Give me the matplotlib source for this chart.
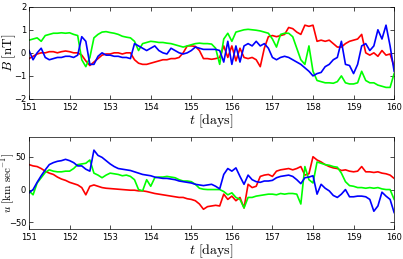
import numpy as np
import matplotlib
matplotlib.use("Agg")
from matplotlib import pyplot as plt

plt.rcParams['mathtext.fontset'] = 'cm'

# time axis, 0.1 day steps from day 151 to day 160
t = np.round(np.arange(151.0, 160.01, 0.1), 1)

# magnetic field components [nT]
B_red = [-0.25, -0.15, -0.05, 0.0, 0.0, 0.05, 0.05, 0.0, 0.05, 0.08,
         0.05, 0.0, 0.0, -0.1, -0.35, -0.55, -0.4, -0.25, -0.1, -0.05,
         -0.05, 0.0, 0.0, -0.05, 0.0, 0.0, -0.3, -0.45, -0.5, -0.5,
         -0.45, -0.4, -0.35, -0.3, -0.3, -0.25, -0.25, -0.2, 0.0, 0.3,
         0.3, 0.28, 0.1, -0.25, -0.25, -0.28, -0.25, -0.2, 0.3, -0.2,
         0.3, -0.35, 0.2, -0.2, -0.25, -0.2, -0.3, -0.6, 0.2, 0.7,
         0.75, 0.7, 0.75, 0.8, 1.1, 1.05, 0.9, 0.8, 1.2, 1.15,
         1.2, 0.5, 0.55, 0.5, 0.55, 0.4, 0.25, 0.25, 0.4, 0.5,
         0.55, 0.6, 0.8, 0.0, -0.1, 0.0, -0.15, 0.1, -0.1, -0.05,
         -0.6]
B_green = [0.55, 0.6, 0.65, 0.5, 0.75, 0.8, 0.85, 0.85, 0.87, 0.85,
           0.87, 0.8, 0.75, -0.3, -0.6, -0.2, 0.65, 0.8, 0.9, 0.92,
           0.88, 0.85, 0.8, 0.72, 0.68, 0.65, 0.5, 0.1, 0.4, 0.45,
           0.5, 0.48, 0.45, 0.45, 0.42, 0.4, 0.35, 0.3, 0.25, 0.3,
           0.35, 0.4, 0.42, 0.4, 0.4, 0.38, 0.2, -0.5, 0.6, 0.85,
           0.5, 0.9, 0.95, 1.0, 1.02, 1.0, 0.98, 0.95, 0.9, 0.85,
           0.6, 0.25, 0.8, 0.85, 0.85, 0.7, 0.2, -0.3, -0.5, 0.3,
           -0.8, -1.2, -1.25, -1.3, -1.3, -1.32, -1.25, -1.0, -1.3, -1.35,
           -1.35, -1.3, -0.8, -1.2, -1.3, -1.3, -1.4, -1.45, -1.5, -1.5,
           -0.9]
B_blue = [0.1, -0.3, 0.0, 0.2, -0.2, -0.3, -0.25, -0.2, -0.2, -0.15,
          -0.15, -0.2, -0.1, 0.7, 0.5, -0.5, -0.5, -0.15, 0.0, -0.1,
          -0.1, -0.15, -0.15, -0.2, -0.2, -0.25, 0.4, 0.3, 0.2, 0.1,
          0.2, 0.3, 0.1, 0.0, -0.05, 0.2, 0.1, 0.0, -0.05, 0.0,
          0.1, 0.25, 0.2, 0.15, 0.15, 0.15, 0.15, 0.1, -0.4, 0.5,
          -0.5, 0.3, -0.4, 0.3, 0.4, 0.3, 0.5, 0.3, 0.4, 0.2,
          -0.2, -0.3, -0.2, -0.15, -0.2, -0.3, -0.4, -0.5, -0.65, -0.8,
          -1.0, -0.9, -0.85, -0.6, -0.5, -0.3, -0.2, 0.5, -0.5, -0.55,
          -0.9, -0.5, 0.3, 0.4, 0.1, 0.3, 1.0, 0.6, 1.2, 0.3,
          -0.8]

# velocity components [km/s]
u_red = [38, 36, 35, 32, 28, 25, 23, 19, 16, 14,
         11, 9, 7, 3, -8, 5, 7, 5, 3, 2,
         1.5, 1, 0.5, 0, -0.5, -1, -1, -2, -2, -3,
         -4.5, -6, -7, -8, -9, -10, -11, -12, -12, -14,
         -15, -17, -22, -30, -26, -25, -24, -25, -7, -15,
         -10, -17, -12, -28, 8, 3, 5, 20, 22, 23,
         20, 28, 30, 31, 32, 30, 32, 35, 22, 24,
         50, 45, 42, 38, 35, 33, 32, 29, 30, 28,
         27, 28, 35, 27, 27, 26, 27, 25, 24, 22,
         17]
u_green = [-2, -8, 10, 18, 26, 30, 28, 27, 27, 28,
           28, 32, 38, 39, 40, 45, 25, 22, 18, 22,
           25, 24, 23, 21, 22, 20, 15, 0, -2, 15,
           5, 18, 19, 19, 20, 19, 18, 15, 13, 13,
           12, 8, 2, 0.5, 0, 0, 0, 0, -3, -8,
           -5, -12, -15, -28, -12, -12, -10, -9, -8, -7,
           -7, -8, -6, -7, -6, -6, -7, -22, 35, 15,
           10, 42, 40, 38, 37, 35, 34, 25, 12, 6,
           5, 3, 3, 2, 3, 2, 3, 1, 0, 0,
           -15]
u_blue = [-5, 0, 11, 21, 30, 38, 41, 43, 44, 46,
          44, 41, 36, 36, 31, 28, 60, 52, 49, 44,
          39, 35, 32, 31, 30, 29, 27, 25, 23, 22,
          21, 19, 18, 17, 17, 16, 15, 13, 12, 11,
          10, 8, 7, 6, 7, 8, 5, 1, 23, 32,
          28, 33, 20, 8, 22, 15, 12, 11, 13, 13,
          14, 18, 20, 21, 22, 20, 15, 9, 18, 19,
          21, -7, 8, 2, -2, -9, -12, -7, 0, -11,
          -11, -10, -10, -11, -15, -33, -25, -4, -10, -15,
          -35]

fig = plt.figure(figsize=(4.03, 2.59), dpi=100)
ax1 = fig.add_axes([0.072, 0.618, 0.906, 0.356])
ax2 = fig.add_axes([0.072, 0.116, 0.906, 0.355])

lw = 1.2
ax1.plot(t, B_red, color=(1, 0, 0), lw=lw)
ax1.plot(t, B_green, color=(0, 1, 0), lw=lw)
ax1.plot(t, B_blue, color=(0, 0, 1), lw=lw)
ax1.set_ylim(-2, 2)
ax1.set_yticks([-2, -1, 0, 1, 2])
ax1.set_ylabel(r'$B\ [\mathrm{nT}]$', fontsize=9.5)
ax1.yaxis.set_label_coords(-0.031, 0.5)

ax2.plot(t, u_red, color=(1, 0, 0), lw=lw)
ax2.plot(t, u_green, color=(0, 1, 0), lw=lw)
ax2.plot(t, u_blue, color=(0, 0, 1), lw=lw)
ax2.set_ylim(-60, 80)
ax2.set_yticks([-50, 0, 50])
ax2.set_ylabel(r'$u\ [\mathrm{km\ sec}^{-1}]$', fontsize=8)
ax2.yaxis.set_label_coords(-0.034, 0.5)

for ax in (ax1, ax2):
    ax.set_xlim(151, 160)
    ax.set_xticks(range(151, 161))
    ax.tick_params(direction='in', top=True, right=True, labelsize=6,
                   length=3, width=0.5, pad=2)
    ax.tick_params(axis='x', pad=3)
    ax.set_xlabel(r'$t\ [\mathrm{days}]$', fontsize=10, labelpad=0)
    for s in ax.spines.values():
        s.set_linewidth(0.5)

fig.savefig('out.png', dpi=100)
